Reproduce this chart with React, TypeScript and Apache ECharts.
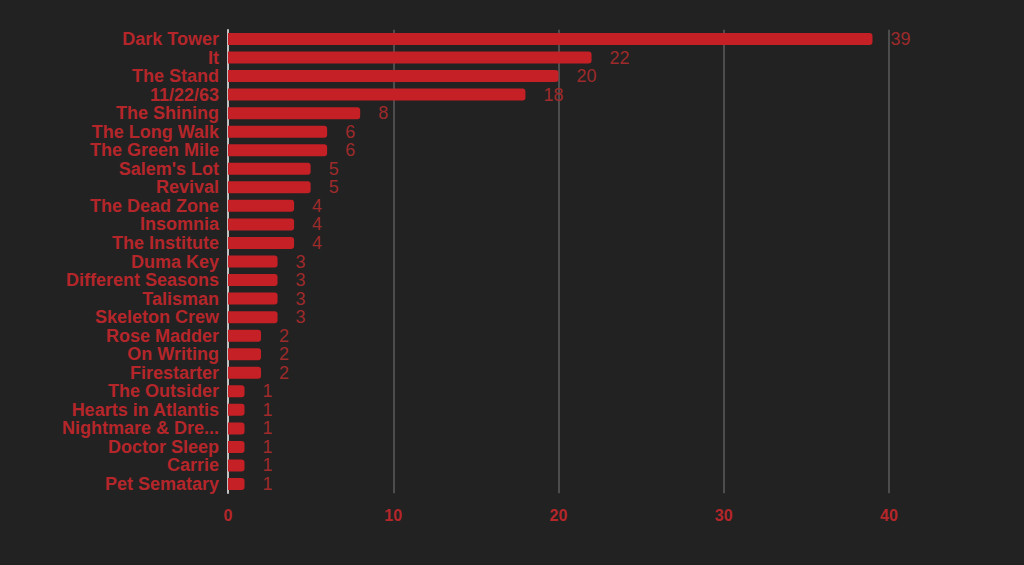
import React, { useEffect, useRef } from "react";
import * as echarts from "echarts";

const books = [
  "Dark Tower", "It", "The Stand", "11/22/63", "The Shining", "The Long Walk",
  "The Green Mile", "Salem's Lot", "Revival", "The Dead Zone", "Insomnia",
  "The Institute", "Duma Key", "Different Seasons", "Talisman", "Skeleton Crew",
  "Rose Madder", "On Writing", "Firestarter", "The Outsider", "Hearts in Atlantis",
  "Nightmare & Dreamscapes", "Doctor Sleep", "Carrie", "Pet Sematary",
];
const counts = [39, 22, 20, 18, 8, 6, 6, 5, 5, 4, 4, 4, 3, 3, 3, 3, 2, 2, 2, 1, 1, 1, 1, 1, 1];
const xTicks = { min: 0, max: 40, interval: 10 };

export default function App() {
  const ref = useRef<HTMLDivElement>(null);
  useEffect(() => {
    if (!ref.current) return;
    const chart = echarts.init(ref.current, undefined, { renderer: "svg" });
    chart.setOption({
      animation: false,
      backgroundColor: "#222222",
      textStyle: { fontFamily: "Liberation Sans, Arial, sans-serif" },
      grid: { left: 228, right: 135, top: 29.7, bottom: 71.7, containLabel: false },
      xAxis: {
        type: "value",
        min: xTicks.min,
        max: xTicks.max,
        interval: xTicks.interval,
        axisLine: { show: false },
        axisTick: { show: false },
        splitLine: { lineStyle: { color: "#5c5c5c", width: 1.5 } },
        axisLabel: { color: "#b5262b", fontWeight: "bold", fontSize: 16, margin: 14 },
      },
      yAxis: {
        type: "category",
        data: books,
        inverse: true,
        axisLine: { show: true, lineStyle: { color: "#e8e8e8", width: 1.5 } },
        axisTick: { show: false },
        axisLabel: {
          interval: 0,
          color: "#b5262b",
          fontWeight: "bold",
          fontSize: 18,
          margin: 9,
          width: 160,
          overflow: "truncate",
        },
      },
      series: [
        {
          type: "bar",
          data: counts,
          barWidth: 12,
          itemStyle: { color: "#c42026", borderRadius: [0, 3, 3, 0] },
          label: {
            show: true,
            position: "right",
            distance: 18,
            color: "#9e2a2b",
            fontSize: 18,
          },
        },
      ],
    });
    return () => chart.dispose();
  }, []);
  return (
    <div
      ref={ref}
      style={{ position: "fixed", left: 0, top: 0, width: 1024, height: 565 }}
    />
  );
}
